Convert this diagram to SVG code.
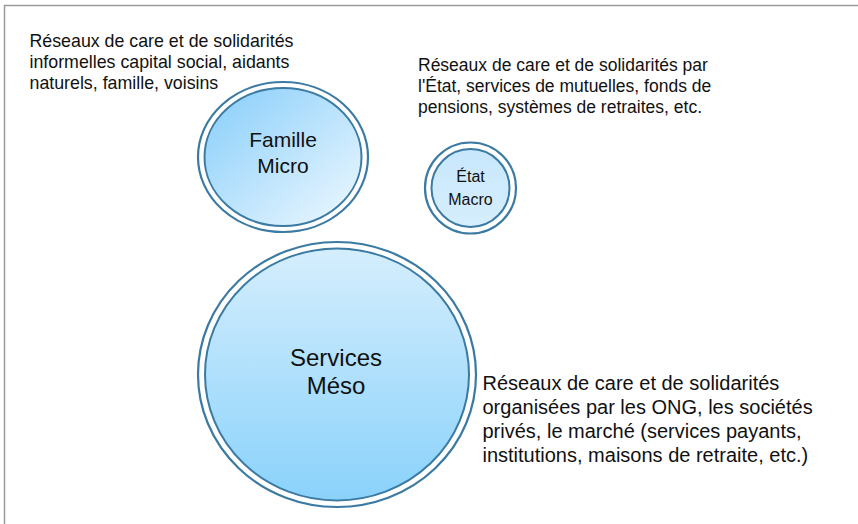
<svg xmlns="http://www.w3.org/2000/svg" width="858" height="524" viewBox="0 0 858 524">
<defs>
<style>
.ring{fill:none;stroke:#3b7aa2;stroke-width:2.2}
.inner{stroke:#3b7aa2;stroke-width:2}
.lbl{font-family:"Liberation Sans",Arial,sans-serif;fill:#111;text-anchor:middle}
.txt{font-family:"Liberation Sans",Arial,sans-serif;fill:#111}
</style>
<linearGradient id="gFam" x1="0" y1="0" x2="1" y2="1">
<stop offset="0" stop-color="#86cdfa"/>
<stop offset="1" stop-color="#f0f9ff"/>
</linearGradient>
<linearGradient id="gEtat" x1="0" y1="0" x2="0" y2="1">
<stop offset="0" stop-color="#c8e7fc"/>
<stop offset="1" stop-color="#d6eefd"/>
</linearGradient>
<linearGradient id="gServ" x1="0" y1="0" x2="0" y2="1">
<stop offset="0" stop-color="#d5eefd"/>
<stop offset="1" stop-color="#8ad2fb"/>
</linearGradient>
</defs>
<rect x="0" y="0" width="858" height="524" fill="#fff"/>
<path d="M4.5 524 V5.5 H858" fill="none" stroke="#9a9a9a" stroke-width="1.5"/>
<g id="connectors"/>
<g id="famille">
<ellipse class="ring" cx="283" cy="157" rx="85" ry="75"/>
<ellipse class="inner" cx="283" cy="157" rx="78.5" ry="69" fill="url(#gFam)"/>
<text class="lbl" x="283" y="147" font-size="21">Famille</text>
<text class="lbl" x="283" y="173" font-size="21">Micro</text>
</g>
<g id="etat">
<circle class="ring" cx="470.5" cy="188" r="45.5"/>
<circle class="inner" cx="470.5" cy="188" r="39" fill="url(#gEtat)"/>
<text class="lbl" x="470.5" y="182" font-size="16">État</text>
<text class="lbl" x="470.5" y="205" font-size="16">Macro</text>
</g>
<g id="services">
<ellipse class="ring" cx="337" cy="374.5" rx="139" ry="132.5"/>
<ellipse class="inner" cx="337" cy="374.5" rx="132" ry="126" fill="url(#gServ)"/>
<text class="lbl" x="336" y="366" font-size="24">Services</text>
<text class="lbl" x="336" y="394" font-size="24">Méso</text>
</g>
<g id="texte-famille" class="txt" font-size="17.8">
<text x="29.5" y="47">Réseaux de care et de solidarités</text>
<text x="29.5" y="68">informelles capital social, aidants</text>
<text x="29.5" y="89">naturels, famille, voisins</text>
</g>
<g id="texte-etat" class="txt" font-size="17.5">
<text x="418" y="71">Réseaux de care et de solidarités par</text>
<text x="418" y="92">l'État, services de mutuelles, fonds de</text>
<text x="418" y="113">pensions, systèmes de retraites, etc.</text>
</g>
<g id="texte-services" class="txt" font-size="20">
<text x="482.5" y="390">Réseaux de care et de solidarités</text>
<text x="482.5" y="414">organisées par les ONG, les sociétés</text>
<text x="482.5" y="438">privés, le marché (services payants,</text>
<text x="482.5" y="462">institutions, maisons de retraite, etc.)</text>
</g>
</svg>
